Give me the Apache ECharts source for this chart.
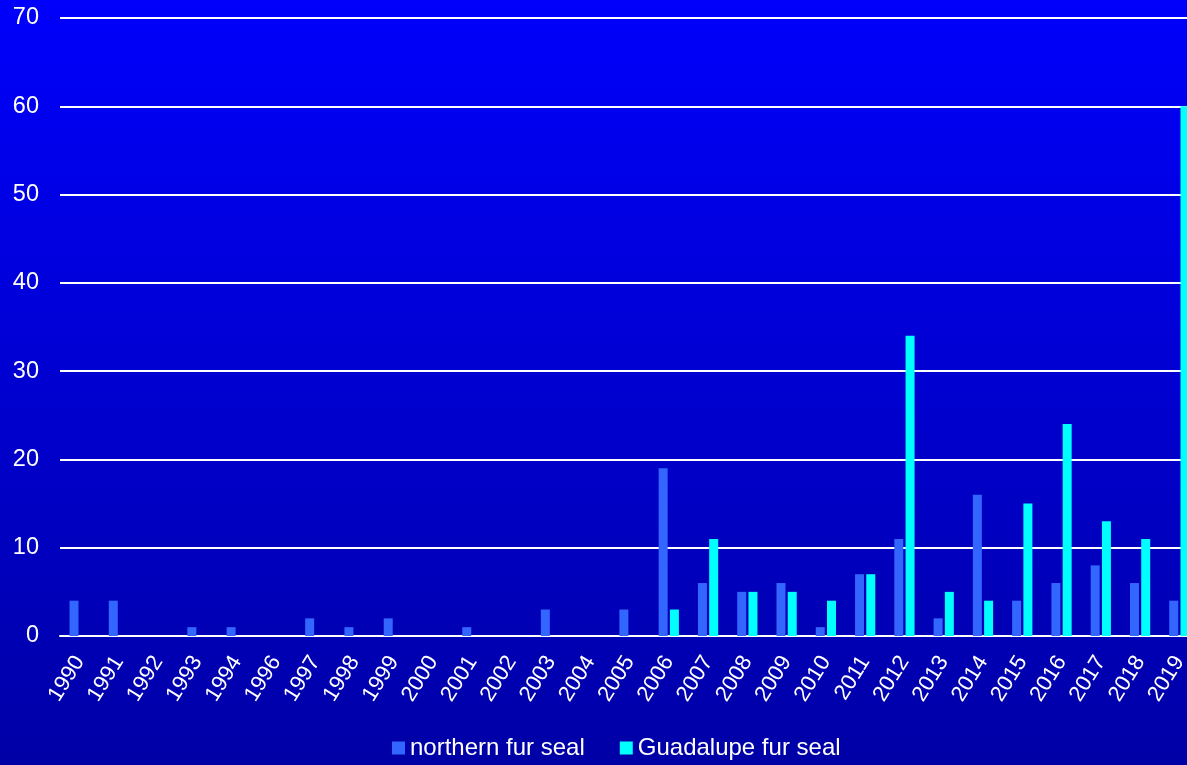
<!DOCTYPE html>
<html>
<head>
<meta charset="utf-8">
<script src="https://cdn.jsdelivr.net/npm/echarts@6/dist/echarts.min.js"></script>
<style>
  html, body { margin: 0; padding: 0; width: 100%; height: 100%; overflow: hidden; }
  /* canvas is a little wider than the window so the last bar sits at the edge */
  #chart { width: 1199px; height: 765px; }
</style>
</head>
<body>
<div id="chart"></div>
<script>
// Fur seal strandings per year
const years = ['1990','1991','1992','1993','1994','1996','1997','1998','1999','2000',
  '2001','2002','2003','2004','2005','2006','2007','2008','2009','2010',
  '2011','2012','2013','2014','2015','2016','2017','2018','2019'];
const northernFurSeal = [4,4,0,1,1,0,2,1,2,0, 1,0,3,0,3,19,6,5,6,1, 7,11,2,16,4,6,8,6,4];
const guadalupeFurSeal = [0,0,0,0,0,0,0,0,0,0, 0,0,0,0,0,3,11,5,5,4, 7,34,5,4,15,24,13,11,60];
const yTicks = { min: 0, max: 70, interval: 10 };

const chart = echarts.init(document.getElementById('chart'));
const font = 'Arial, "Liberation Sans", sans-serif';

chart.setOption({
  backgroundColor: {
    type: 'linear', x: 0, y: 0, x2: 0, y2: 1,
    colorStops: [
      { offset: 0, color: '#0000fc' },
      { offset: 1, color: '#0000a6' }
    ]
  },
  animation: false,
  grid: { left: 60, right: 0, top: 18, bottom: 129, containLabel: false },
  legend: {
    left: 387, bottom: 0,
    itemWidth: 13, itemHeight: 13, itemGap: 35,
    icon: 'rect',
    textStyle: { color: '#ffffff', fontSize: 24, fontFamily: font },
    data: ['northern fur seal', 'Guadalupe fur seal']
  },
  xAxis: {
    type: 'category',
    data: years,
    axisLine: { show: true, lineStyle: { color: '#ffffff', width: 2 } },
    axisTick: { show: false },
    axisLabel: { color: '#ffffff', fontSize: 22, fontFamily: font, rotate: 58, margin: 22, interval: 0 }
  },
  yAxis: {
    type: 'value',
    min: yTicks.min, max: yTicks.max, interval: yTicks.interval,
    axisLine: { show: false },
    axisTick: { show: false },
    splitLine: { lineStyle: { color: '#ffffff', width: 2 } },
    axisLabel: { color: '#ffffff', fontSize: 23.5, fontFamily: font, margin: 21 }
  },
  series: [
    { name: 'northern fur seal', type: 'bar', data: northernFurSeal,
      barWidth: 9, barGap: '25%', itemStyle: { color: '#3366ff' } },
    { name: 'Guadalupe fur seal', type: 'bar', data: guadalupeFurSeal,
      barWidth: 9, itemStyle: { color: '#00ffff' } }
  ]
});
</script>
</body>
</html>
